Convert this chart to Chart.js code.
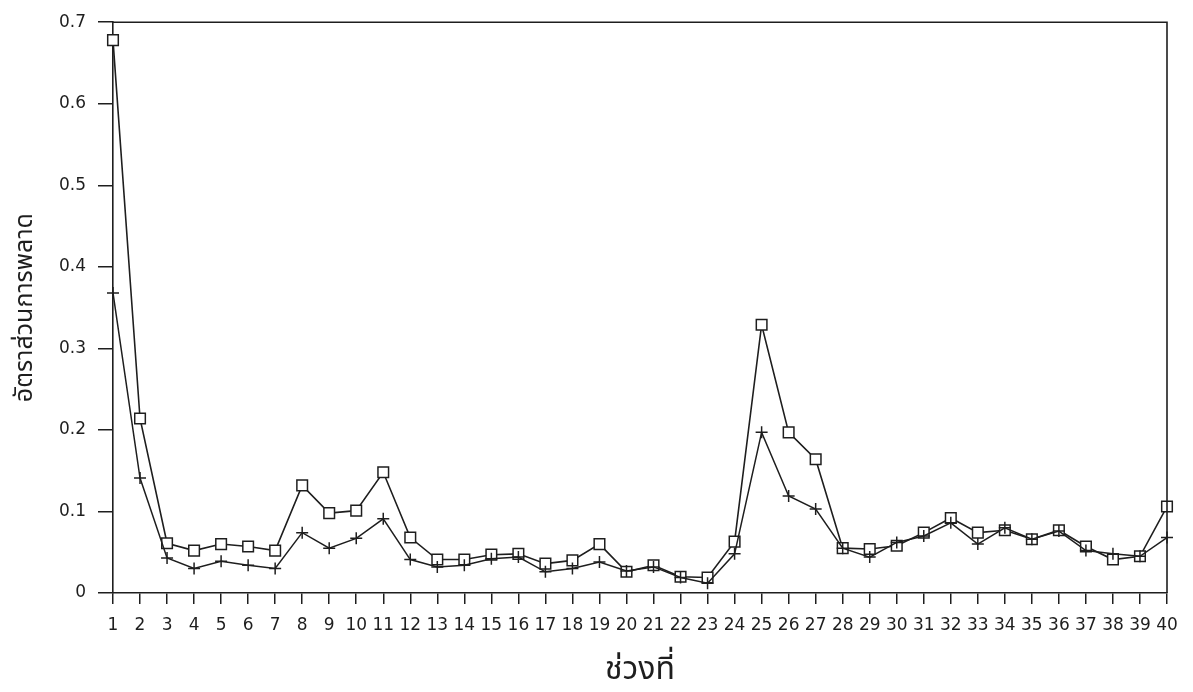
<!DOCTYPE html>
<html>
<head>
<meta charset="utf-8">
<script src="https://cdn.jsdelivr.net/npm/chart.js@4.4.1/dist/chart.umd.min.js"></script>
<style>
  html, body { margin: 0; padding: 0; background: #fff; }
  #wrap { width: 1193px; height: 692px; position: relative; }
</style>
</head>
<body>
<div id="wrap"><canvas id="c" width="1193" height="692"></canvas></div>
<script>
// ---- data ----
const periods = Array.from({length: 40}, (_, i) => String(i + 1));
const seriesSquare = [0.678, 0.214, 0.061, 0.052, 0.060, 0.057, 0.052, 0.132, 0.098, 0.101,
                      0.148, 0.068, 0.041, 0.041, 0.047, 0.048, 0.036, 0.040, 0.060, 0.026,
                      0.034, 0.020, 0.019, 0.063, 0.329, 0.197, 0.164, 0.055, 0.054, 0.058,
                      0.074, 0.092, 0.074, 0.077, 0.066, 0.077, 0.057, 0.041, 0.045, 0.106];
const seriesPlus   = [0.368, 0.141, 0.043, 0.030, 0.039, 0.034, 0.030, 0.074, 0.055, 0.067,
                      0.091, 0.041, 0.032, 0.034, 0.042, 0.044, 0.026, 0.030, 0.038, 0.027,
                      0.032, 0.019, 0.012, 0.048, 0.197, 0.119, 0.103, 0.055, 0.044, 0.062,
                      0.070, 0.086, 0.060, 0.080, 0.066, 0.076, 0.052, 0.048, 0.045, 0.068];
const yTicks = [0, 0.1, 0.2, 0.3, 0.4, 0.5, 0.6, 0.7];
const yTitle = 'อัตราส่วนการพลาด';
const xTitle = 'ช่วงที่';

const ink = '#1e1e1e';
const thaiFont = "'Noto Sans Thai', 'Noto Serif Thai', 'Loma', 'Garuda', 'Norasi', 'DejaVu Sans', sans-serif";
const numFont = "'DejaVu Sans', 'Liberation Sans', sans-serif";

const frame = {
  id: 'frame',
  afterDatasetsDraw(chart) {
    const a = chart.chartArea, ctx = chart.ctx;
    ctx.save();
    ctx.strokeStyle = ink;
    ctx.lineWidth = 1.6;
    ctx.beginPath();
    ctx.moveTo(a.left, a.top);
    ctx.lineTo(a.right, a.top);
    ctx.lineTo(a.right, a.bottom);
    ctx.stroke();
    ctx.restore();
  }
};

new Chart(document.getElementById('c'), {
  type: 'line',
  data: {
    labels: periods,
    datasets: [
      {
        label: 'plus',
        data: seriesPlus,
        borderColor: ink,
        borderWidth: 1.5,
        pointStyle: 'cross',
        pointRadius: 6,
        pointBorderWidth: 1.5,
        pointBorderColor: ink,
        tension: 0,
        fill: false
      },
      {
        label: 'square',
        data: seriesSquare,
        borderColor: ink,
        borderWidth: 1.6,
        pointStyle: 'rect',
        pointRadius: 7.5,
        pointBorderWidth: 1.5,
        pointBorderColor: ink,
        pointBackgroundColor: '#fff',
        tension: 0,
        fill: false
      }
    ]
  },
  options: {
    responsive: false,
    animation: false,
    layout: { autoPadding: false, padding: { top: 17, right: 26, left: 0, bottom: 0 } },
    plugins: { legend: { display: false }, tooltip: { enabled: false } },
    scales: {
      x: {
        offset: false,
        grid: { display: true, drawOnChartArea: false, drawTicks: true, tickLength: 11, color: ink, lineWidth: 1.5 },
        border: { display: true, color: ink, width: 1.6 },
        ticks: { autoSkip: false, maxRotation: 0, minRotation: 0, padding: 11, color: ink,
                 font: { family: numFont, size: 17 } },
        title: { display: true, text: xTitle, color: ink, padding: { top: 0, bottom: 0 },
                 font: { family: thaiFont, size: 32 } },
        afterFit(s) { s.height = 99; }
      },
      y: {
        min: 0, max: 0.7,
        afterBuildTicks(s) { s.ticks = yTicks.map(v => ({ value: v })); },
        grid: { display: true, drawOnChartArea: false, drawTicks: true, tickLength: 15, color: ink, lineWidth: 1.5 },
        border: { display: true, color: ink, width: 1.6 },
        ticks: { padding: 12, color: ink, font: { family: numFont, size: 17 },
                 callback: v => (v === 0 ? '0' : v.toFixed(1)) },
        title: { display: true, text: yTitle, color: ink, padding: 12,
                 font: { family: thaiFont, size: 25 } },
        afterFit(s) { s.width = 113; }
      }
    }
  },
  plugins: [frame]
});
</script>
</body>
</html>
